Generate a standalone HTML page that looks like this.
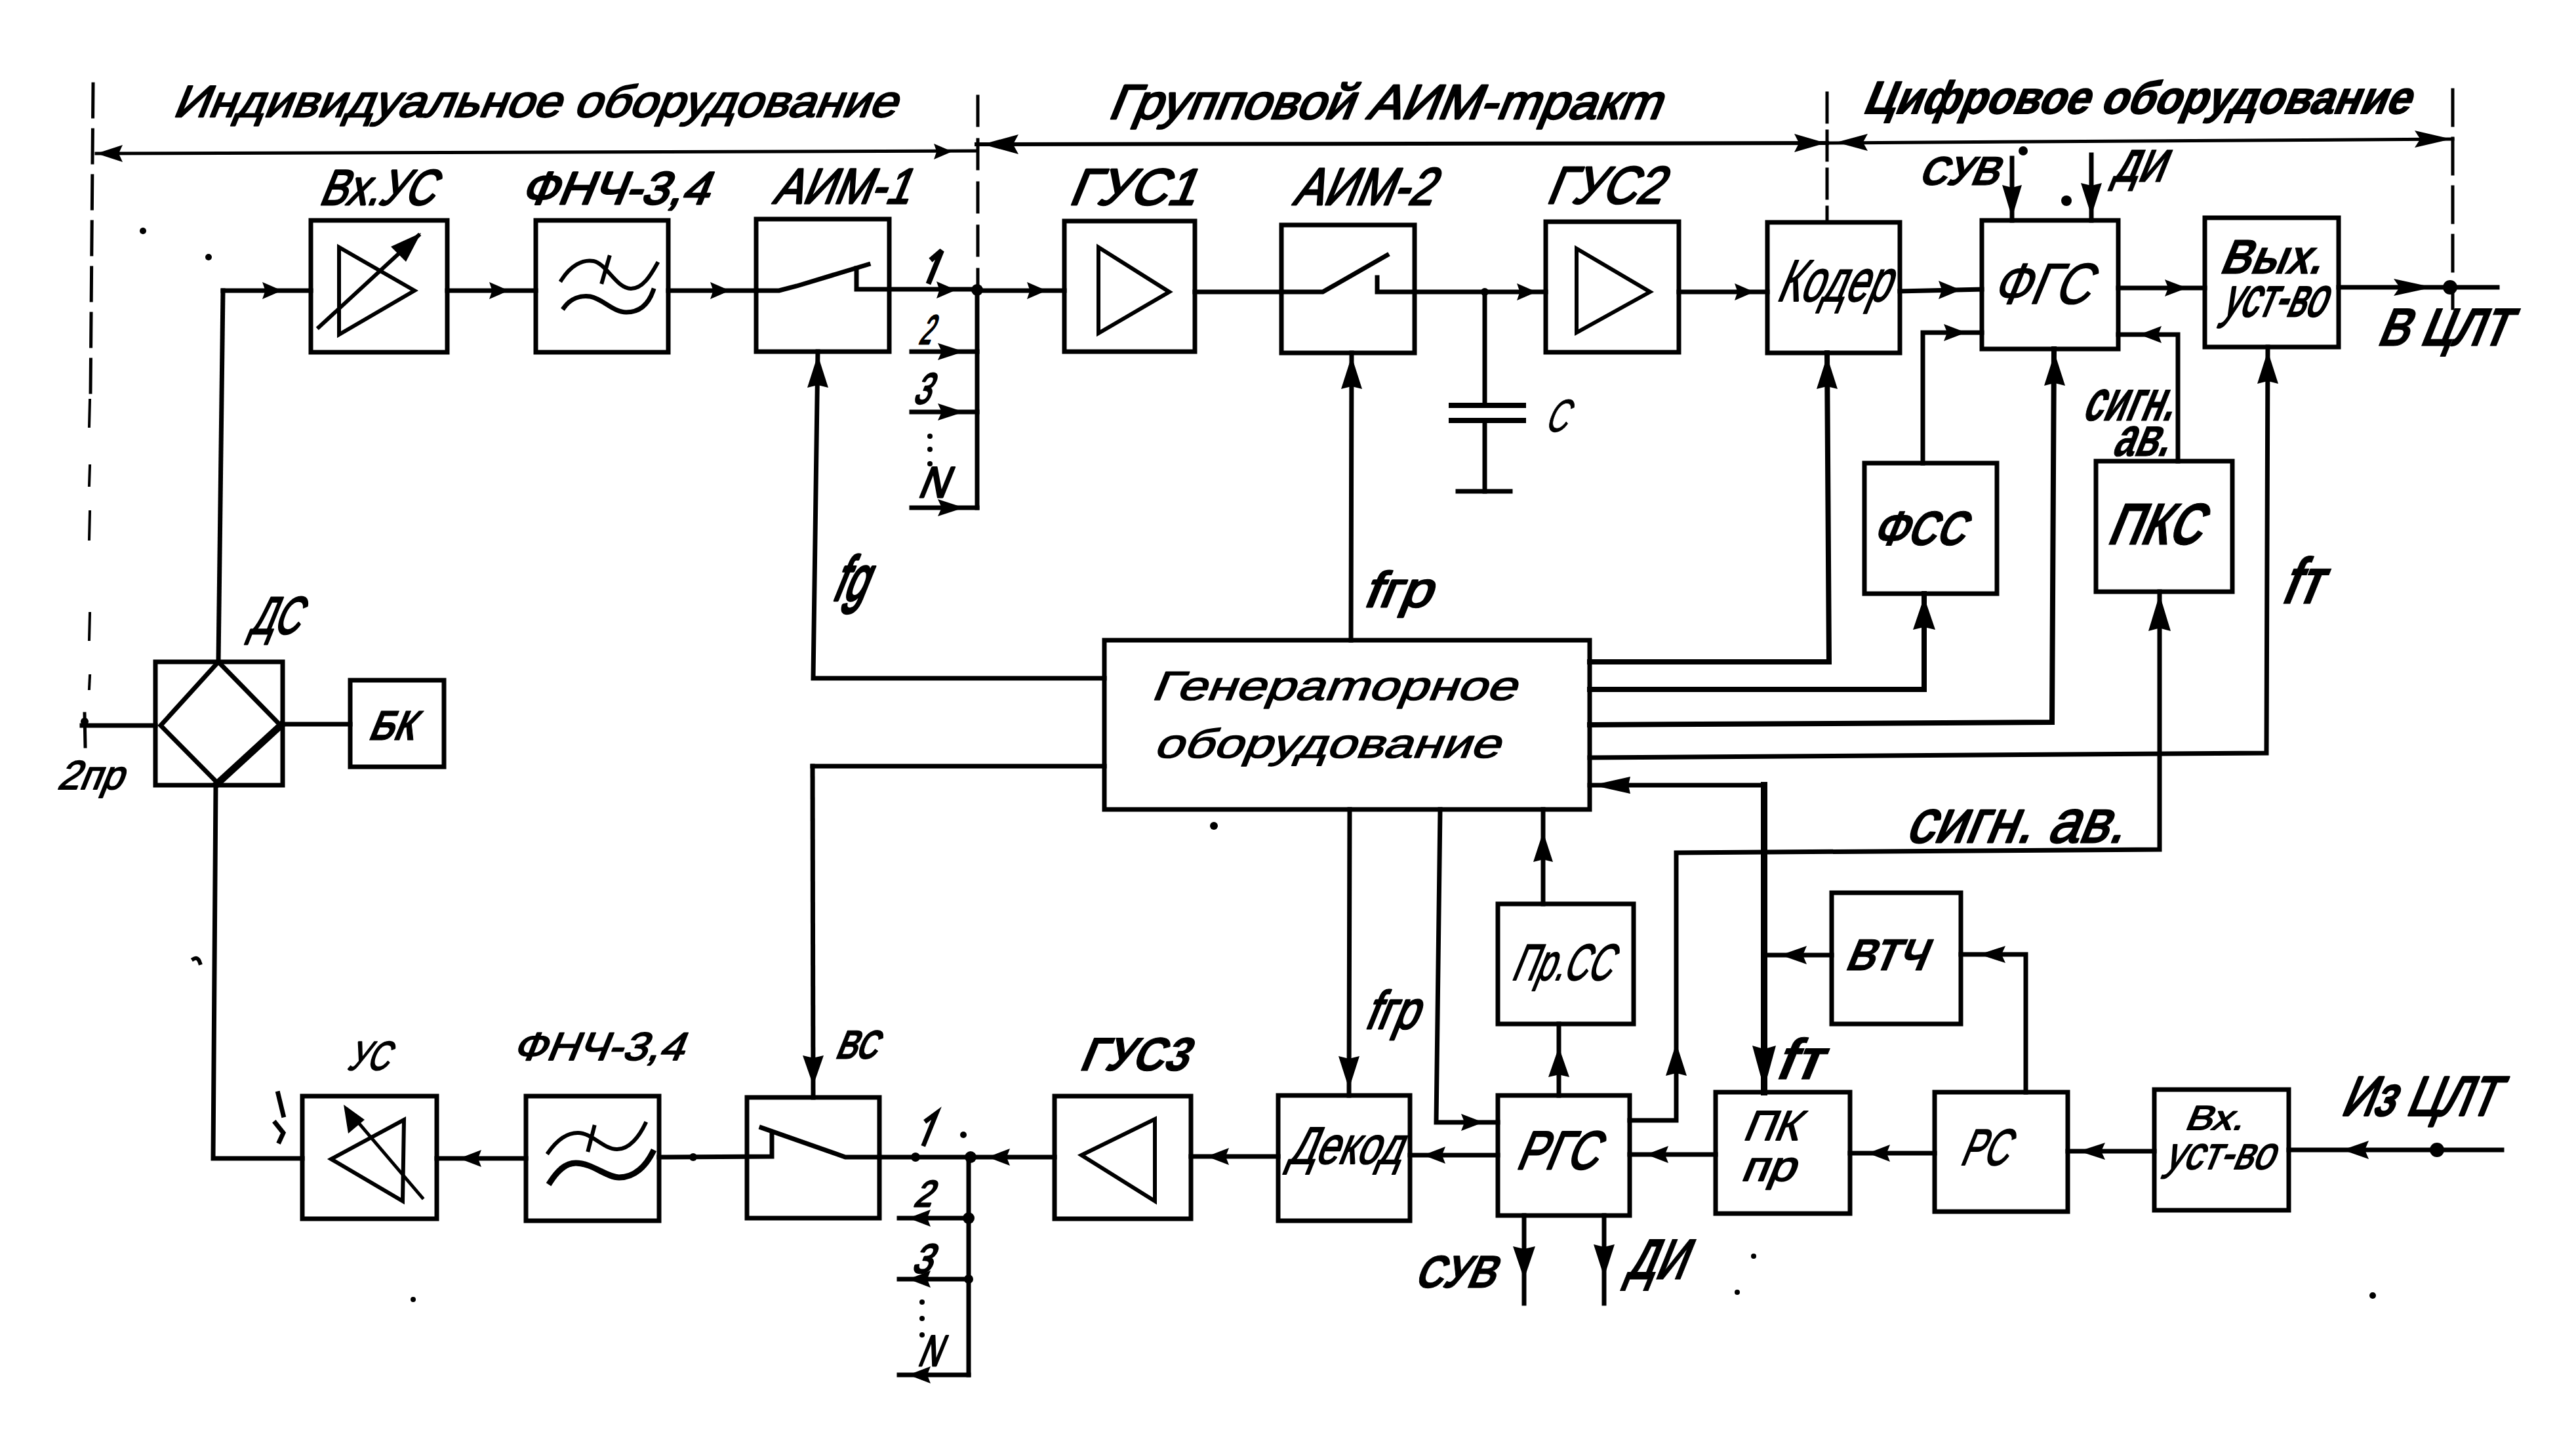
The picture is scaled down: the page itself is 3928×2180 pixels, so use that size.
<!DOCTYPE html>
<html><head><meta charset="utf-8"><style>
html,body{margin:0;padding:0;background:#fff;}
svg{display:block;}
svg path, svg rect, svg polygon, svg circle {fill:none;stroke:#000;stroke-linecap:square;stroke-linejoin:miter;}
svg .f{fill:#000;stroke:none;}
svg text{font-family:"Liberation Sans",sans-serif;fill:#000;stroke-linejoin:round;}
</style></head><body>
<svg width="3928" height="2180" viewBox="0 0 3928 2180">
<rect x="0" y="0" width="3928" height="2180" style="fill:#fff;stroke:none"/>
<path d="M142,128 L138,600" stroke-width="5" stroke-dasharray="50 20"/>
<path d="M137,610 L136,650" stroke-width="4"/>
<path d="M137,710 L136,740" stroke-width="4"/>
<path d="M137,780 L136,822" stroke-width="4"/>
<path d="M137,935 L136,975" stroke-width="4"/>
<path d="M137,1030 L136,1050" stroke-width="4"/>
<path d="M129,1088 L130,1138" stroke-width="5"/>
<circle cx="129" cy="1100" r="6" class="f"/>
<path d="M1491,147 L1491,440" stroke-width="5" stroke-dasharray="44 22"/>
<path d="M2786,142 L2786,336" stroke-width="5" stroke-dasharray="44 14"/>
<path d="M3740,137 L3740,470" stroke-width="5" stroke-dasharray="54 20"/>
<path d="M147,234 L1489,230" stroke-width="5"/>
<polygon points="147.0,234.0 187.0,221.0 181.0,234.0 187.0,247.0" class="f"/>
<polygon points="1452.0,231.0 1424.0,219.0 1428.2,231.0 1424.0,243.0" class="f"/>
<path d="M1489,220 L2786,218" stroke-width="6"/>
<polygon points="1498.0,220.0 1553.0,205.0 1544.8,220.0 1553.0,235.0" class="f"/>
<polygon points="2784.0,218.0 2736.0,204.0 2743.2,218.0 2736.0,232.0" class="f"/>
<path d="M2786,218 L3740,212" stroke-width="5"/>
<polygon points="2800.0,217.0 2848.0,204.0 2840.8,217.0 2848.0,230.0" class="f"/>
<polygon points="3738.0,212.0 3682.0,199.0 3690.4,212.0 3682.0,225.0" class="f"/>
<g transform="translate(262.0,178) skewX(-22)"><text id="t1" x="0" y="0" font-size="68" font-weight="normal" stroke="#000" stroke-width="2.5" textLength="1102.9" lengthAdjust="spacingAndGlyphs">Индивидуальное оборудование</text></g>
<g transform="translate(1688.0,181) skewX(-22)"><text id="t2" x="0" y="0" font-size="74" font-weight="normal" stroke="#000" stroke-width="3" textLength="841.5" lengthAdjust="spacingAndGlyphs">Групповой АИМ-mракm</text></g>
<g transform="translate(2839.0,173) skewX(-22)"><text id="t3" x="0" y="0" font-size="70" font-weight="bold" stroke="#000" stroke-width="2" textLength="833.4" lengthAdjust="spacingAndGlyphs">Цифровое оборудование</text></g>
<rect x="474" y="336" width="208" height="201" stroke-width="7"/>
<rect x="817" y="336" width="202" height="201" stroke-width="7"/>
<rect x="1153" y="334" width="203" height="202" stroke-width="7"/>
<rect x="1623" y="337" width="199" height="199" stroke-width="7"/>
<rect x="1954" y="343" width="203" height="195" stroke-width="7"/>
<rect x="2357" y="338" width="203" height="199" stroke-width="7"/>
<rect x="2695" y="339" width="202" height="199" stroke-width="7"/>
<rect x="3022" y="336" width="208" height="196" stroke-width="7"/>
<rect x="3362" y="332" width="204" height="197" stroke-width="7"/>
<g transform="translate(485.0,312) skewX(-22)"><text id="vxus" x="0" y="0" font-size="76" font-weight="normal" stroke="#000" stroke-width="3" textLength="175.0" lengthAdjust="spacingAndGlyphs">Вх.УС</text></g>
<g transform="translate(792.0,311) skewX(-22)"><text id="fnch1" x="0" y="0" font-size="70" font-weight="normal" stroke="#000" stroke-width="3" textLength="286.4" lengthAdjust="spacingAndGlyphs">ФНЧ-3,4</text></g>
<g transform="translate(1177.0,310) skewX(-22)"><text id="aim1" x="0" y="0" font-size="76" font-weight="normal" stroke="#000" stroke-width="3" textLength="208.0" lengthAdjust="spacingAndGlyphs">АИМ-1</text></g>
<g transform="translate(1628.0,312) skewX(-22)"><text id="gus1" x="0" y="0" font-size="78" font-weight="normal" stroke="#000" stroke-width="3" textLength="192.5" lengthAdjust="spacingAndGlyphs">ГУС1</text></g>
<g transform="translate(1970.0,312) skewX(-22)"><text id="aim2" x="0" y="0" font-size="80" font-weight="normal" stroke="#000" stroke-width="3" textLength="213.1" lengthAdjust="spacingAndGlyphs">АИМ-2</text></g>
<g transform="translate(2356.0,310) skewX(-22)"><text id="gus2" x="0" y="0" font-size="80" font-weight="normal" stroke="#000" stroke-width="3" textLength="176.1" lengthAdjust="spacingAndGlyphs">ГУС2</text></g>
<g transform="translate(2707.0,459) skewX(-22)"><text id="koder" x="0" y="0" font-size="90" font-weight="normal" stroke="#000" stroke-width="2" textLength="171.7" lengthAdjust="spacingAndGlyphs">Кодер</text></g>
<g transform="translate(3035.0,463) skewX(-22)"><text id="fgs" x="0" y="0" font-size="88" font-weight="normal" stroke="#000" stroke-width="1.5" textLength="149.2" lengthAdjust="spacingAndGlyphs">ФГС</text></g>
<g transform="translate(3383.0,417) skewX(-22)"><text id="vyx" x="0" y="0" font-size="74" font-weight="bold" stroke="#000" stroke-width="1" textLength="153.5" lengthAdjust="spacingAndGlyphs">Вых.</text></g>
<g transform="translate(3386.0,482) skewX(-22)"><text id="ustvo1" x="0" y="0" font-size="84" font-weight="normal" stroke="#000" stroke-width="3" textLength="157.1" lengthAdjust="spacingAndGlyphs">уст-во</text></g>
<g transform="translate(3623.0,527) skewX(-22)"><text id="vclt" x="0" y="0" font-size="82" font-weight="bold" stroke="#000" stroke-width="1" textLength="198.6" lengthAdjust="spacingAndGlyphs">В ЦЛТ</text></g>
<g transform="translate(2924.0,282) skewX(-22)"><text id="suv1" x="0" y="0" font-size="62" font-weight="bold" stroke="#000" stroke-width="1" textLength="121.3" lengthAdjust="spacingAndGlyphs">СУВ</text></g>
<g transform="translate(3219.0,277) skewX(-22)"><text id="di1" x="0" y="0" font-size="70" font-weight="bold" stroke="#000" stroke-width="1" textLength="78.4" lengthAdjust="spacingAndGlyphs">ДИ</text></g>
<polygon points="517.0,377.0 517.0,510.0 632.0,443.0" stroke-width="6"/>
<path d="M486,499 L638,359" stroke-width="6"/>
<polygon points="642,355 596,376 619,399" class="f"/>
<path d="M856,427 C870,405 888,395 905,398 C925,402 940,440 962,440 C980,440 992,420 1002,402" stroke-width="6"/>
<path d="M860,469 C870,455 885,450 900,452 C920,456 935,476 955,476 C978,476 990,460 996,443" stroke-width="7"/>
<path d="M929,392 L918,430" stroke-width="6"/>
<polygon points="1675.0,377.0 1675.0,508.0 1783.0,445.0" stroke-width="6"/>
<polygon points="2404.0,379.0 2404.0,507.0 2516.0,445.0" stroke-width="6"/>
<path d="M340,443 L474,443" stroke-width="7"/>
<polygon points="430.0,443.0 400.0,430.0 404.5,443.0 400.0,456.0" class="f"/>
<path d="M682,443 L817,443" stroke-width="7"/>
<polygon points="776.0,443.0 746.0,430.0 750.5,443.0 746.0,456.0" class="f"/>
<path d="M1019,443 L1153,443" stroke-width="7"/>
<polygon points="1113.0,443.0 1083.0,430.0 1087.5,443.0 1083.0,456.0" class="f"/>
<path d="M1153,443 L1188,443 L1215,436 L1324,403" stroke-width="7"/>
<path d="M1306,409 L1306,441 L1491,441" stroke-width="7"/>
<polygon points="1458.0,442.0 1428.0,429.0 1432.5,442.0 1428.0,455.0" class="f"/>
<path d="M1491,443 L1623,443" stroke-width="7"/>
<polygon points="1596.0,443.0 1566.0,430.0 1570.5,443.0 1566.0,456.0" class="f"/>
<path d="M1822,445 L1954,445" stroke-width="7"/>
<path d="M1954,445 L2017,445 L2115,389" stroke-width="7"/>
<path d="M2100,423 L2100,445 L2357,445" stroke-width="7"/>
<polygon points="2343.0,445.0 2313.0,432.0 2317.5,445.0 2313.0,458.0" class="f"/>
<circle cx="2264" cy="445" r="6" class="f"/>
<path d="M2560,445 L2695,445" stroke-width="7"/>
<polygon points="2675.0,445.0 2645.0,432.0 2649.5,445.0 2645.0,458.0" class="f"/>
<path d="M2897,444 L3022,441" stroke-width="7"/>
<polygon points="2990.0,442.0 2956.0,428.0 2961.1,442.0 2956.0,456.0" class="f"/>
<path d="M3230,439 L3362,439" stroke-width="7"/>
<polygon points="3335.0,439.0 3301.0,426.0 3306.1,439.0 3301.0,452.0" class="f"/>
<path d="M3566,438 L3808,438" stroke-width="7"/>
<polygon points="3710.0,438.0 3650.0,425.0 3659.0,438.0 3650.0,451.0" class="f"/>
<circle cx="3736" cy="438" r="11" class="f"/>
<path d="M1490,441 L1490,774" stroke-width="7"/>
<path d="M1390,536 L1490,536" stroke-width="7"/>
<polygon points="1470.0,536.0 1430.0,523.0 1436.0,536.0 1430.0,549.0" class="f"/>
<path d="M1390,628 L1490,628" stroke-width="7"/>
<polygon points="1470.0,628.0 1430.0,615.0 1436.0,628.0 1430.0,641.0" class="f"/>
<path d="M1390,774 L1490,774" stroke-width="7"/>
<polygon points="1470.0,774.0 1430.0,761.0 1436.0,774.0 1430.0,787.0" class="f"/>
<path d="M1422,394 L1436,382 L1417,429" stroke-width="8"/>
<g transform="translate(1400.0,524) skewX(-22)"><text id="n2" x="0" y="0" font-size="62" font-weight="normal" stroke="#000" stroke-width="3" textLength="18.3" lengthAdjust="spacingAndGlyphs">2</text></g>
<g transform="translate(1391.0,615) skewX(-22)"><text id="n3" x="0" y="0" font-size="66" font-weight="normal" stroke="#000" stroke-width="3" textLength="25.4" lengthAdjust="spacingAndGlyphs">3</text></g>
<g transform="translate(1398.0,758) skewX(-22)"><text id="nN" x="0" y="0" font-size="66" font-weight="normal" stroke="#000" stroke-width="3" textLength="44.4" lengthAdjust="spacingAndGlyphs">N</text></g>
<circle cx="1418" cy="665" r="4" class="f"/>
<circle cx="1418" cy="685" r="4" class="f"/>
<circle cx="1418" cy="707" r="4" class="f"/>
<circle cx="1490" cy="442" r="9" class="f"/>
<path d="M2264,445 L2264,618" stroke-width="7"/>
<path d="M2213,618 L2323,618" stroke-width="8"/>
<path d="M2213,641 L2323,641" stroke-width="8"/>
<path d="M2264,641 L2264,749" stroke-width="7"/>
<path d="M2223,749 L2303,749" stroke-width="7"/>
<g transform="translate(2354.0,658) skewX(-22)"><text id="cap" x="0" y="0" font-size="70" font-weight="normal" stroke="#000" stroke-width="1" textLength="33.4" lengthAdjust="spacingAndGlyphs">C</text></g>
<path d="M1247,536 L1240,1034 L1684,1034" stroke-width="7"/>
<polygon points="1247.0,541.0 1231.0,591.0 1247.0,587.0 1263.0,591.0" class="f"/>
<path d="M2061,538 L2060,976" stroke-width="7"/>
<polygon points="2061.0,543.0 2045.0,593.0 2061.0,589.0 2077.0,593.0" class="f"/>
<path d="M2786,538 L2789,1009 L2424,1009" stroke-width="8"/>
<polygon points="2786.0,543.0 2770.0,593.0 2786.0,589.0 2802.0,593.0" class="f"/>
<path d="M2934,905 L2934,1051 L2424,1051" stroke-width="8"/>
<polygon points="2934.0,910.0 2917.0,960.0 2934.0,956.0 2951.0,960.0" class="f"/>
<path d="M3132,532 L3129,1101 L2424,1105" stroke-width="8"/>
<polygon points="3133.0,538.0 3117.0,588.0 3133.0,584.0 3149.0,588.0" class="f"/>
<path d="M3458,529 L3456,1148 L2424,1155" stroke-width="7"/>
<polygon points="3458.0,535.0 3442.0,585.0 3458.0,581.0 3474.0,585.0" class="f"/>
<path d="M2932,706 L2932,507 L3022,507" stroke-width="7"/>
<polygon points="2998.0,507.0 2964.0,494.0 2969.1,507.0 2964.0,520.0" class="f"/>
<path d="M3321,703 L3321,510 L3230,510" stroke-width="7"/>
<polygon points="3262.0,510.0 3296.0,497.0 3290.9,510.0 3296.0,523.0" class="f"/>
<path d="M3068,241 L3068,336" stroke-width="7"/>
<polygon points="3068.0,332.0 3053.0,282.0 3068.0,286.0 3083.0,282.0" class="f"/>
<path d="M3189,236 L3189,336" stroke-width="7"/>
<polygon points="3189.0,329.0 3173.0,279.0 3189.0,283.0 3205.0,279.0" class="f"/>
<g transform="translate(1267.0,915) skewX(-22)"><text id="fd" x="0" y="0" font-size="96" font-weight="normal" stroke="#000" stroke-width="4.5" textLength="51.3" lengthAdjust="spacingAndGlyphs">fg</text></g>
<g transform="translate(2077.0,925) skewX(-22)"><text id="fgr1" x="0" y="0" font-size="76" font-weight="normal" stroke="#000" stroke-width="3" textLength="103.0" lengthAdjust="spacingAndGlyphs">fгр</text></g>
<g transform="translate(3475.0,920) skewX(-22)"><text id="ft1" x="0" y="0" font-size="100" font-weight="bold" stroke="#000" stroke-width="1" textLength="60.6" lengthAdjust="spacingAndGlyphs">fт</text></g>
<g transform="translate(3173.0,641) skewX(-22)"><text id="sign1" x="0" y="0" font-size="88" font-weight="bold" stroke="#000" stroke-width="1" textLength="137.4" lengthAdjust="spacingAndGlyphs">сигн.</text></g>
<g transform="translate(3219.0,695) skewX(-22)"><text id="av1" x="0" y="0" font-size="84" font-weight="bold" stroke="#000" stroke-width="1" textLength="84.9" lengthAdjust="spacingAndGlyphs">ав.</text></g>
<rect x="2843" y="706" width="202" height="199" stroke-width="7"/>
<rect x="3196" y="703" width="208" height="199" stroke-width="7"/>
<g transform="translate(2854.0,831) skewX(-22)"><text id="fss" x="0" y="0" font-size="74" font-weight="bold" stroke="#000" stroke-width="1" textLength="139.4" lengthAdjust="spacingAndGlyphs">ФСС</text></g>
<g transform="translate(3211.0,830) skewX(-22)"><text id="pks" x="0" y="0" font-size="90" font-weight="bold" stroke="#000" stroke-width="1" textLength="142.7" lengthAdjust="spacingAndGlyphs">ПКС</text></g>
<rect x="1684" y="976" width="740" height="258" stroke-width="7"/>
<g transform="translate(1754.0,1067) skewX(-22)"><text id="gen1" x="0" y="0" font-size="62" font-weight="normal" stroke="#000" stroke-width="1.5" textLength="555.8" lengthAdjust="spacingAndGlyphs">Генераmорное</text></g>
<g transform="translate(1758.0,1155) skewX(-22)"><text id="gen2" x="0" y="0" font-size="62" font-weight="normal" stroke="#000" stroke-width="1.5" textLength="526.8" lengthAdjust="spacingAndGlyphs">оборудование</text></g>
<circle cx="1851" cy="1259" r="6" class="f"/>
<path d="M340,443 L333,1009" stroke-width="7"/>
<rect x="237" y="1009" width="194" height="188" stroke-width="7"/>
<polygon points="333.0,1009.0 245.0,1106.0 332.0,1194.0 428.0,1106.0" stroke-width="7"/>
<path d="M332,1194 L428,1106" stroke-width="11"/>
<path d="M125,1106 L237,1106" stroke-width="7"/>
<path d="M431,1104 L534,1104" stroke-width="7"/>
<rect x="534" y="1037" width="143" height="132" stroke-width="7"/>
<g transform="translate(560.0,1128) skewX(-22)"><text id="bk" x="0" y="0" font-size="64" font-weight="bold" stroke="#000" stroke-width="1" textLength="69.8" lengthAdjust="spacingAndGlyphs">БК</text></g>
<g transform="translate(379.0,966) skewX(-22)"><text id="ds" x="0" y="0" font-size="80" font-weight="normal" stroke="#000" stroke-width="3" textLength="75.1" lengthAdjust="spacingAndGlyphs">ДС</text></g>
<g transform="translate(86.0,1203) skewX(-22)"><text id="2pr" x="0" y="0" font-size="62" font-weight="normal" stroke="#000" stroke-width="2" textLength="99.3" lengthAdjust="spacingAndGlyphs">2пр</text></g>
<path d="M329,1197 L325,1766 L461,1766" stroke-width="7"/>
<rect x="461" y="1671" width="205" height="187" stroke-width="7"/>
<rect x="802" y="1671" width="203" height="190" stroke-width="7"/>
<rect x="1139" y="1673" width="202" height="184" stroke-width="7"/>
<rect x="1608" y="1671" width="208" height="187" stroke-width="7"/>
<rect x="1949" y="1670" width="201" height="191" stroke-width="7"/>
<rect x="2284" y="1670" width="201" height="183" stroke-width="7"/>
<rect x="2616" y="1665" width="205" height="185" stroke-width="7"/>
<rect x="2950" y="1665" width="203" height="182" stroke-width="7"/>
<rect x="3285" y="1661" width="205" height="184" stroke-width="7"/>
<rect x="2284" y="1378" width="207" height="183" stroke-width="7"/>
<rect x="2793" y="1361" width="197" height="200" stroke-width="7"/>
<g transform="translate(528.0,1631) skewX(-22)"><text id="us" x="0" y="0" font-size="62" font-weight="normal" stroke="#000" stroke-width="2" textLength="63.3" lengthAdjust="spacingAndGlyphs">УС</text></g>
<g transform="translate(780.0,1616) skewX(-22)"><text id="fnch2" x="0" y="0" font-size="60" font-weight="normal" stroke="#000" stroke-width="2" textLength="260.8" lengthAdjust="spacingAndGlyphs">ФНЧ-3,4</text></g>
<g transform="translate(1272.0,1614) skewX(-22)"><text id="vs" x="0" y="0" font-size="62" font-weight="bold" stroke="#000" stroke-width="1" textLength="63.3" lengthAdjust="spacingAndGlyphs">ВС</text></g>
<g transform="translate(1644.0,1632) skewX(-22)"><text id="gus3" x="0" y="0" font-size="72" font-weight="bold" stroke="#000" stroke-width="1" textLength="164.9" lengthAdjust="spacingAndGlyphs">ГУС3</text></g>
<g transform="translate(1962.0,1774) skewX(-22)"><text id="dekod" x="0" y="0" font-size="80" font-weight="normal" stroke="#000" stroke-width="2" textLength="173.1" lengthAdjust="spacingAndGlyphs">Декод</text></g>
<g transform="translate(2310.0,1782) skewX(-22)"><text id="rgs" x="0" y="0" font-size="82" font-weight="normal" stroke="#000" stroke-width="3" textLength="123.6" lengthAdjust="spacingAndGlyphs">РГС</text></g>
<g transform="translate(2656.0,1738) skewX(-22)"><text id="pk" x="0" y="0" font-size="64" font-weight="normal" stroke="#000" stroke-width="2" textLength="84.8" lengthAdjust="spacingAndGlyphs">ПК</text></g>
<g transform="translate(2653.0,1800) skewX(-22)"><text id="pr" x="0" y="0" font-size="64" font-weight="normal" stroke="#000" stroke-width="2" textLength="81.8" lengthAdjust="spacingAndGlyphs">пр</text></g>
<g transform="translate(2987.0,1776) skewX(-22)"><text id="rs" x="0" y="0" font-size="78" font-weight="normal" stroke="#000" stroke-width="2" textLength="72.5" lengthAdjust="spacingAndGlyphs">РС</text></g>
<g transform="translate(3330.0,1722) skewX(-22)"><text id="vx2" x="0" y="0" font-size="52" font-weight="normal" stroke="#000" stroke-width="2" textLength="88.7" lengthAdjust="spacingAndGlyphs">Вх.</text></g>
<g transform="translate(3299.0,1782) skewX(-22)"><text id="ustvo2" x="0" y="0" font-size="70" font-weight="normal" stroke="#000" stroke-width="2" textLength="166.3" lengthAdjust="spacingAndGlyphs">уст-во</text></g>
<g transform="translate(2303.0,1494) skewX(-22)"><text id="prss" x="0" y="0" font-size="78" font-weight="normal" stroke="#000" stroke-width="2" textLength="151.5" lengthAdjust="spacingAndGlyphs">Пр.СС</text></g>
<g transform="translate(2812.0,1479) skewX(-22)"><text id="vtch" x="0" y="0" font-size="68" font-weight="bold" stroke="#000" stroke-width="1" textLength="121.9" lengthAdjust="spacingAndGlyphs">ВТЧ</text></g>
<g transform="translate(3568.0,1700) skewX(-22)"><text id="izclt" x="0" y="0" font-size="84" font-weight="normal" stroke="#000" stroke-width="4" textLength="236.1" lengthAdjust="spacingAndGlyphs">Из ЦЛТ</text></g>
<g transform="translate(2079.0,1568) skewX(-22)"><text id="fgr2" x="0" y="0" font-size="82" font-weight="normal" stroke="#000" stroke-width="3" textLength="80.4" lengthAdjust="spacingAndGlyphs">fгр</text></g>
<g transform="translate(2704.0,1645) skewX(-22)"><text id="ft2" x="0" y="0" font-size="88" font-weight="bold" stroke="#000" stroke-width="1" textLength="69.9" lengthAdjust="spacingAndGlyphs">fт</text></g>
<g transform="translate(2155.0,1963) skewX(-22)"><text id="suv2" x="0" y="0" font-size="70" font-weight="bold" stroke="#000" stroke-width="1" textLength="122.4" lengthAdjust="spacingAndGlyphs">СУВ</text></g>
<g transform="translate(2477.0,1950) skewX(-22)"><text id="di2" x="0" y="0" font-size="88" font-weight="bold" stroke="#000" stroke-width="1" textLength="89.2" lengthAdjust="spacingAndGlyphs">ДИ</text></g>
<g transform="translate(2904.0,1284) skewX(-22)"><text id="sign2" x="0" y="0" font-size="92" font-weight="normal" stroke="#000" stroke-width="3" textLength="332.1" lengthAdjust="spacingAndGlyphs">сигн. ав.</text></g>
<polygon points="505.0,1767.0 616.0,1707.0 614.0,1831.0" stroke-width="6"/>
<path d="M644,1826 L530,1692" stroke-width="5"/>
<polygon points="524,1684 531,1728 556,1707" class="f"/>
<path d="M836,1757 C850,1737 865,1727 881,1727 C903,1727 920,1752 941,1752 C960,1752 975,1732 984,1713" stroke-width="6"/>
<path d="M839,1802 C850,1785 862,1773 878,1773 C903,1773 925,1795 944,1795 C968,1795 985,1777 995,1757" stroke-width="9"/>
<path d="M906,1718 L897,1753" stroke-width="6"/>
<path d="M1341,1764 L1289,1764 L1161,1719" stroke-width="7"/>
<path d="M1177,1730 L1177,1763 L1005,1764" stroke-width="7"/>
<circle cx="1057" cy="1764" r="6" class="f"/>
<polygon points="1649.0,1761.0 1761.0,1706.0 1761.0,1831.0" stroke-width="6"/>
<path d="M3815,1753 L3490,1753" stroke-width="7"/>
<polygon points="3572.0,1753.0 3612.0,1739.0 3606.0,1753.0 3612.0,1767.0" class="f"/>
<circle cx="3716" cy="1753" r="11" class="f"/>
<path d="M3285,1755 L3153,1755" stroke-width="7"/>
<polygon points="3170.0,1755.0 3210.0,1742.0 3204.0,1755.0 3210.0,1768.0" class="f"/>
<path d="M2950,1758 L2821,1758" stroke-width="7"/>
<polygon points="2848.0,1758.0 2882.0,1745.0 2876.9,1758.0 2882.0,1771.0" class="f"/>
<path d="M2616,1760 L2485,1760" stroke-width="7"/>
<polygon points="2510.0,1760.0 2544.0,1747.0 2538.9,1760.0 2544.0,1773.0" class="f"/>
<path d="M2284,1761 L2150,1761" stroke-width="7"/>
<polygon points="2170.0,1761.0 2204.0,1748.0 2198.9,1761.0 2204.0,1774.0" class="f"/>
<path d="M1949,1763 L1816,1763" stroke-width="7"/>
<polygon points="1840.0,1763.0 1874.0,1750.0 1868.9,1763.0 1874.0,1776.0" class="f"/>
<path d="M1608,1764 L1341,1764" stroke-width="7"/>
<polygon points="1506.0,1764.0 1540.0,1751.0 1534.9,1764.0 1540.0,1777.0" class="f"/>
<circle cx="1480" cy="1764" r="9" class="f"/>
<circle cx="1396" cy="1764" r="7" class="f"/>
<path d="M802,1766 L666,1766" stroke-width="7"/>
<polygon points="700.0,1766.0 734.0,1753.0 728.9,1766.0 734.0,1779.0" class="f"/>
<path d="M1477,1764 L1477,2096" stroke-width="7"/>
<path d="M1371,1857 L1477,1857" stroke-width="7"/>
<polygon points="1385.0,1857.0 1419.0,1844.0 1413.9,1857.0 1419.0,1870.0" class="f"/>
<path d="M1371,1950 L1477,1950" stroke-width="7"/>
<polygon points="1385.0,1950.0 1419.0,1937.0 1413.9,1950.0 1419.0,1963.0" class="f"/>
<path d="M1371,2096 L1477,2096" stroke-width="7"/>
<polygon points="1385.0,2096.0 1419.0,2083.0 1413.9,2096.0 1419.0,2109.0" class="f"/>
<circle cx="1477" cy="1857" r="9" class="f"/>
<circle cx="1477" cy="1950" r="7" class="f"/>
<path d="M1413,1708 L1428,1697 L1409,1744" stroke-width="7"/>
<circle cx="1469" cy="1730" r="5" class="f"/>
<g transform="translate(1392.0,1839) skewX(-22)"><text id="m2" x="0" y="0" font-size="56" font-weight="normal" stroke="#000" stroke-width="3" textLength="27.7" lengthAdjust="spacingAndGlyphs">2</text></g>
<g transform="translate(1389.0,1940) skewX(-22)"><text id="m3" x="0" y="0" font-size="62" font-weight="normal" stroke="#000" stroke-width="3" textLength="30.3" lengthAdjust="spacingAndGlyphs">3</text></g>
<g transform="translate(1398.0,2082) skewX(-22)"><text id="mN" x="0" y="0" font-size="66" font-weight="normal" stroke="#000" stroke-width="3" textLength="33.4" lengthAdjust="spacingAndGlyphs">N</text></g>
<circle cx="1406" cy="1985" r="4" class="f"/>
<circle cx="1406" cy="2010" r="4" class="f"/>
<circle cx="1406" cy="2035" r="4" class="f"/>
<path d="M1239,1168 L1684,1168" stroke-width="7"/>
<path d="M1239,1168 L1240,1673" stroke-width="7"/>
<polygon points="1240.0,1655.0 1224.0,1609.0 1240.0,1612.7 1256.0,1609.0" class="f"/>
<path d="M2058,1234 L2057,1670" stroke-width="7"/>
<polygon points="2057.0,1660.0 2041.0,1610.0 2057.0,1614.0 2073.0,1610.0" class="f"/>
<path d="M2196,1234 L2190,1711 L2284,1711" stroke-width="7"/>
<polygon points="2262.0,1711.0 2228.0,1698.0 2233.1,1711.0 2228.0,1724.0" class="f"/>
<path d="M2353,1378 L2353,1234" stroke-width="7"/>
<polygon points="2353.0,1268.0 2338.0,1314.0 2353.0,1310.3 2368.0,1314.0" class="f"/>
<path d="M2377,1670 L2377,1561" stroke-width="7"/>
<polygon points="2377.0,1596.0 2361.0,1642.0 2377.0,1638.3 2393.0,1642.0" class="f"/>
<path d="M2690,1665 L2690,1197 L2424,1197" stroke-width="7"/>
<path d="M2690,1197 L2690,1665" stroke-width="10"/>
<polygon points="2428.0,1197.0 2486.0,1184.0 2483.1,1197.0 2486.0,1210.0" class="f"/>
<polygon points="2690.0,1660.0 2672.0,1594.0 2690.0,1599.3 2708.0,1594.0" class="f"/>
<path d="M2793,1456 L2690,1456" stroke-width="7"/>
<polygon points="2715.0,1456.0 2755.0,1442.0 2749.0,1456.0 2755.0,1470.0" class="f"/>
<path d="M3089,1665 L3089,1455 L2990,1455" stroke-width="7"/>
<polygon points="3018.0,1455.0 3058.0,1442.0 3052.0,1455.0 3058.0,1468.0" class="f"/>
<path d="M2485,1708 L2556,1708 L2556,1300 L3293,1295 L3293,902" stroke-width="7"/>
<polygon points="2556.0,1590.0 2540.0,1640.0 2556.0,1636.0 2572.0,1640.0" class="f"/>
<polygon points="3293.0,906.0 3276.0,962.0 3293.0,957.5 3310.0,962.0" class="f"/>
<path d="M2324,1853 L2324,1987" stroke-width="7"/>
<polygon points="2324.0,1950.0 2307.0,1900.0 2324.0,1904.0 2341.0,1900.0" class="f"/>
<path d="M2446,1853 L2446,1987" stroke-width="7"/>
<polygon points="2446.0,1947.0 2430.0,1897.0 2446.0,1901.0 2462.0,1897.0" class="f"/>
<circle cx="3085" cy="230" r="7" class="f"/>
<circle cx="3151" cy="306" r="8" class="f"/>
<circle cx="218" cy="352" r="5" class="f"/>
<circle cx="318" cy="392" r="5" class="f"/>
<circle cx="630" cy="1981" r="4" class="f"/>
<circle cx="3618" cy="1975" r="5" class="f"/>
<circle cx="2649" cy="1970" r="4" class="f"/>
<circle cx="2674" cy="1915" r="4" class="f"/>
<path d="M424,1667 L432,1700 M420,1712 L432,1727 L426,1740" stroke-width="7"/>
<path d="M295,1462 Q302,1458 305,1468" stroke-width="6"/>
</svg></body></html>
